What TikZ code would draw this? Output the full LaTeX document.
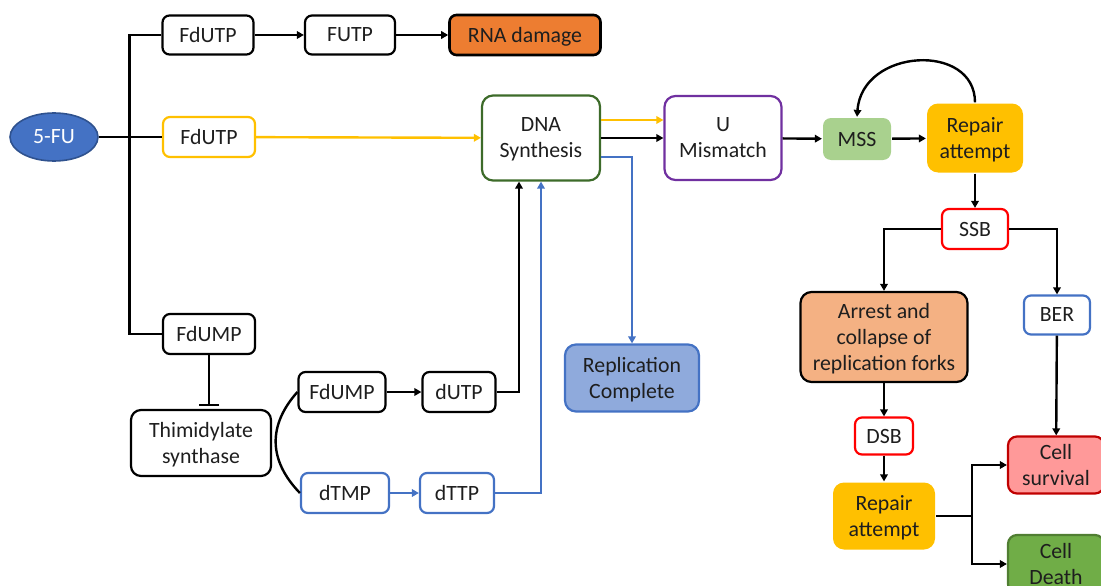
\documentclass[tikz,border=0pt]{standalone}
\usepackage{fontspec}
\setmainfont{Carlito}
\usetikzlibrary{arrows.meta,shapes.geometric}
\definecolor{fublue}{HTML}{4472C4}
\definecolor{fuedge}{HTML}{2F528F}
\definecolor{ylw}{HTML}{FFC000}
\definecolor{dnagreen}{HTML}{3D6B2A}
\definecolor{purp}{HTML}{7030A0}
\definecolor{mssgreen}{HTML}{A9D18E}
\definecolor{rnaorange}{HTML}{ED7D31}
\definecolor{arrestfill}{HTML}{F4B183}
\definecolor{replfill}{HTML}{8FAADC}
\definecolor{survfill}{HTML}{FF9999}
\definecolor{survedge}{HTML}{C00000}
\definecolor{deathfill}{HTML}{70AD47}
\definecolor{deathedge}{HTML}{507E32}
\definecolor{ink}{HTML}{1E1E1E}
\newcommand\txtsize{\fontsize{21.8}{26}\selectfont}
\begin{document}
\begin{tikzpicture}[x=1pt,y=-1pt,
  box/.style={draw, rounded corners=7pt, line width=2.2pt, align=center,
    inner sep=0pt, text depth=0pt, font=\txtsize, text=ink},
  plain/.style={box, draw=none, rounded corners=8pt},
  link/.style={line width=2.4pt, draw=black},
  arr/.style={link, -{Triangle[length=7pt,width=7.5pt]}},
  yarr/.style={arr, draw=ylw},
  barr/.style={arr, draw=fublue}]
\useasboundingbox (0,0) rectangle (1101,586);

% --- nodes ---
\node[ellipse, draw=fuedge, fill=fublue, line width=1.6pt, text=white,
  minimum width=88, minimum height=48, inner sep=0pt, text depth=0pt, font=\txtsize] (fu) at (54,137) {5-FU};
\node[box, minimum width=91, minimum height=39] (fdutpa) at (208,35) {FdUTP};
\node[box, minimum width=90, minimum height=39] (futp) at (350,35) {FUTP};
\node[box, fill=rnaorange, line width=2.6pt, minimum width=151, minimum height=40] (rna) at (525,35) {RNA damage};
\node[box, draw=ylw, minimum width=92, minimum height=40] (fdutpb) at (209,137) {FdUTP};
\node[box, draw=dnagreen, rounded corners=11pt, minimum width=118, minimum height=85] (dna) at (541,138) {DNA\\Synthesis};
\node[box, draw=purp, rounded corners=11pt, minimum width=117, minimum height=84] (mis) at (723,138) {U\\Mismatch};
\node[plain, fill=mssgreen, minimum width=68, minimum height=42] (mss) at (857,139) {MSS};
\node[plain, fill=ylw, rounded corners=11pt, minimum width=96, minimum height=69] (repa) at (975,138) {Repair\\attempt};
\node[box, draw=red, minimum width=66, minimum height=40] (ssb) at (975,229) {SSB};
\node[box, fill=arrestfill, rounded corners=11pt, minimum width=167, minimum height=90] (arrest) at (884,337) {Arrest and\\collapse of\\replication forks};
\node[box, draw=fublue, minimum width=66, minimum height=39] (ber) at (1057,315) {BER};
\node[box, draw=red, minimum width=58, minimum height=37] (dsb) at (884,436) {DSB};
\node[plain, fill=ylw, rounded corners=11pt, minimum width=102, minimum height=67] (repb) at (884,516) {Repair\\attempt};
\node[box, draw=survedge, fill=survfill, rounded corners=9pt, minimum width=96, minimum height=57] (surv) at (1056,465) {Cell\\survival};
\node[box, draw=deathedge, fill=deathfill, rounded corners=9pt, minimum width=96, minimum height=58] (death) at (1056,564) {Cell\\Death};
\node[box, minimum width=92, minimum height=40] (fdumpa) at (209,334) {FdUMP};
\node[box, rounded corners=10pt, minimum width=140, minimum height=66] (ts) at (201,443) {Thimidylate\\synthase};
\node[box, minimum width=87, minimum height=40] (fdumpb) at (342,392) {FdUMP};
\node[box, minimum width=73, minimum height=40] (dutp) at (459,392) {dUTP};
\node[box, draw=fublue, minimum width=88, minimum height=40] (dtmp) at (345,493) {dTMP};
\node[box, draw=fublue, minimum width=74, minimum height=40] (dttp) at (457,493) {dTTP};
\node[box, draw=fublue, fill=replfill, rounded corners=11pt, minimum width=134, minimum height=67] (repl) at (632,378) {Replication\\Complete};

% --- connectors ---
\draw[link] (fu.east) -- (fdutpb.west);
\draw[link] (fdutpa.west) -- ++(-32,0) |- (fdumpa.west);
\draw[arr] (fdutpa) -- (futp);
\draw[arr] (futp) -- (rna);
\draw[yarr] (fdutpb) -- (dna);
\draw[yarr] ([yshift=18pt]dna.east) -- ([yshift=18pt]mis.west);
\draw[arr] (dna.east) -- (mis.west);
\draw[barr] ([yshift=-19pt]dna.east) -| (repl.north);
\draw[arr] (mis) -- (mss);
\draw[arr] (mss) -- (repa);
\draw[arr] (repa.north) .. controls (975,42) and (862,48) .. (mss.north);
\draw[arr] (repa) -- (ssb);
\draw[arr] (ssb.west) -| (arrest.north);
\draw[arr] (ssb.east) -| (ber.north);
\draw[arr] (arrest) -- (dsb);
\draw[arr] (dsb) -- (repb);
\draw[arr] (ber) -- (surv);
\draw[arr] (repb.east) -- ++(36,0) |- (surv.west);
\draw[arr] (repb.east) -- ++(36,0) |- (death.west);
\draw[link, -{Bar[width=20pt,line width=2.4pt]}, shorten >=3pt] (fdumpa.south) -- (fdumpa.south |- ts.north);
\draw[link] (fdumpb.west) .. controls (268,425) and (268,460) .. (dtmp.west);
\draw[arr] (fdumpb) -- (dutp);
\draw[arr] (dutp.east) -| ([xshift=-22pt]dna.south);
\draw[barr] (dtmp) -- (dttp);
\draw[barr] (dttp.east) -| (dna.south);
\end{tikzpicture}
\end{document}
